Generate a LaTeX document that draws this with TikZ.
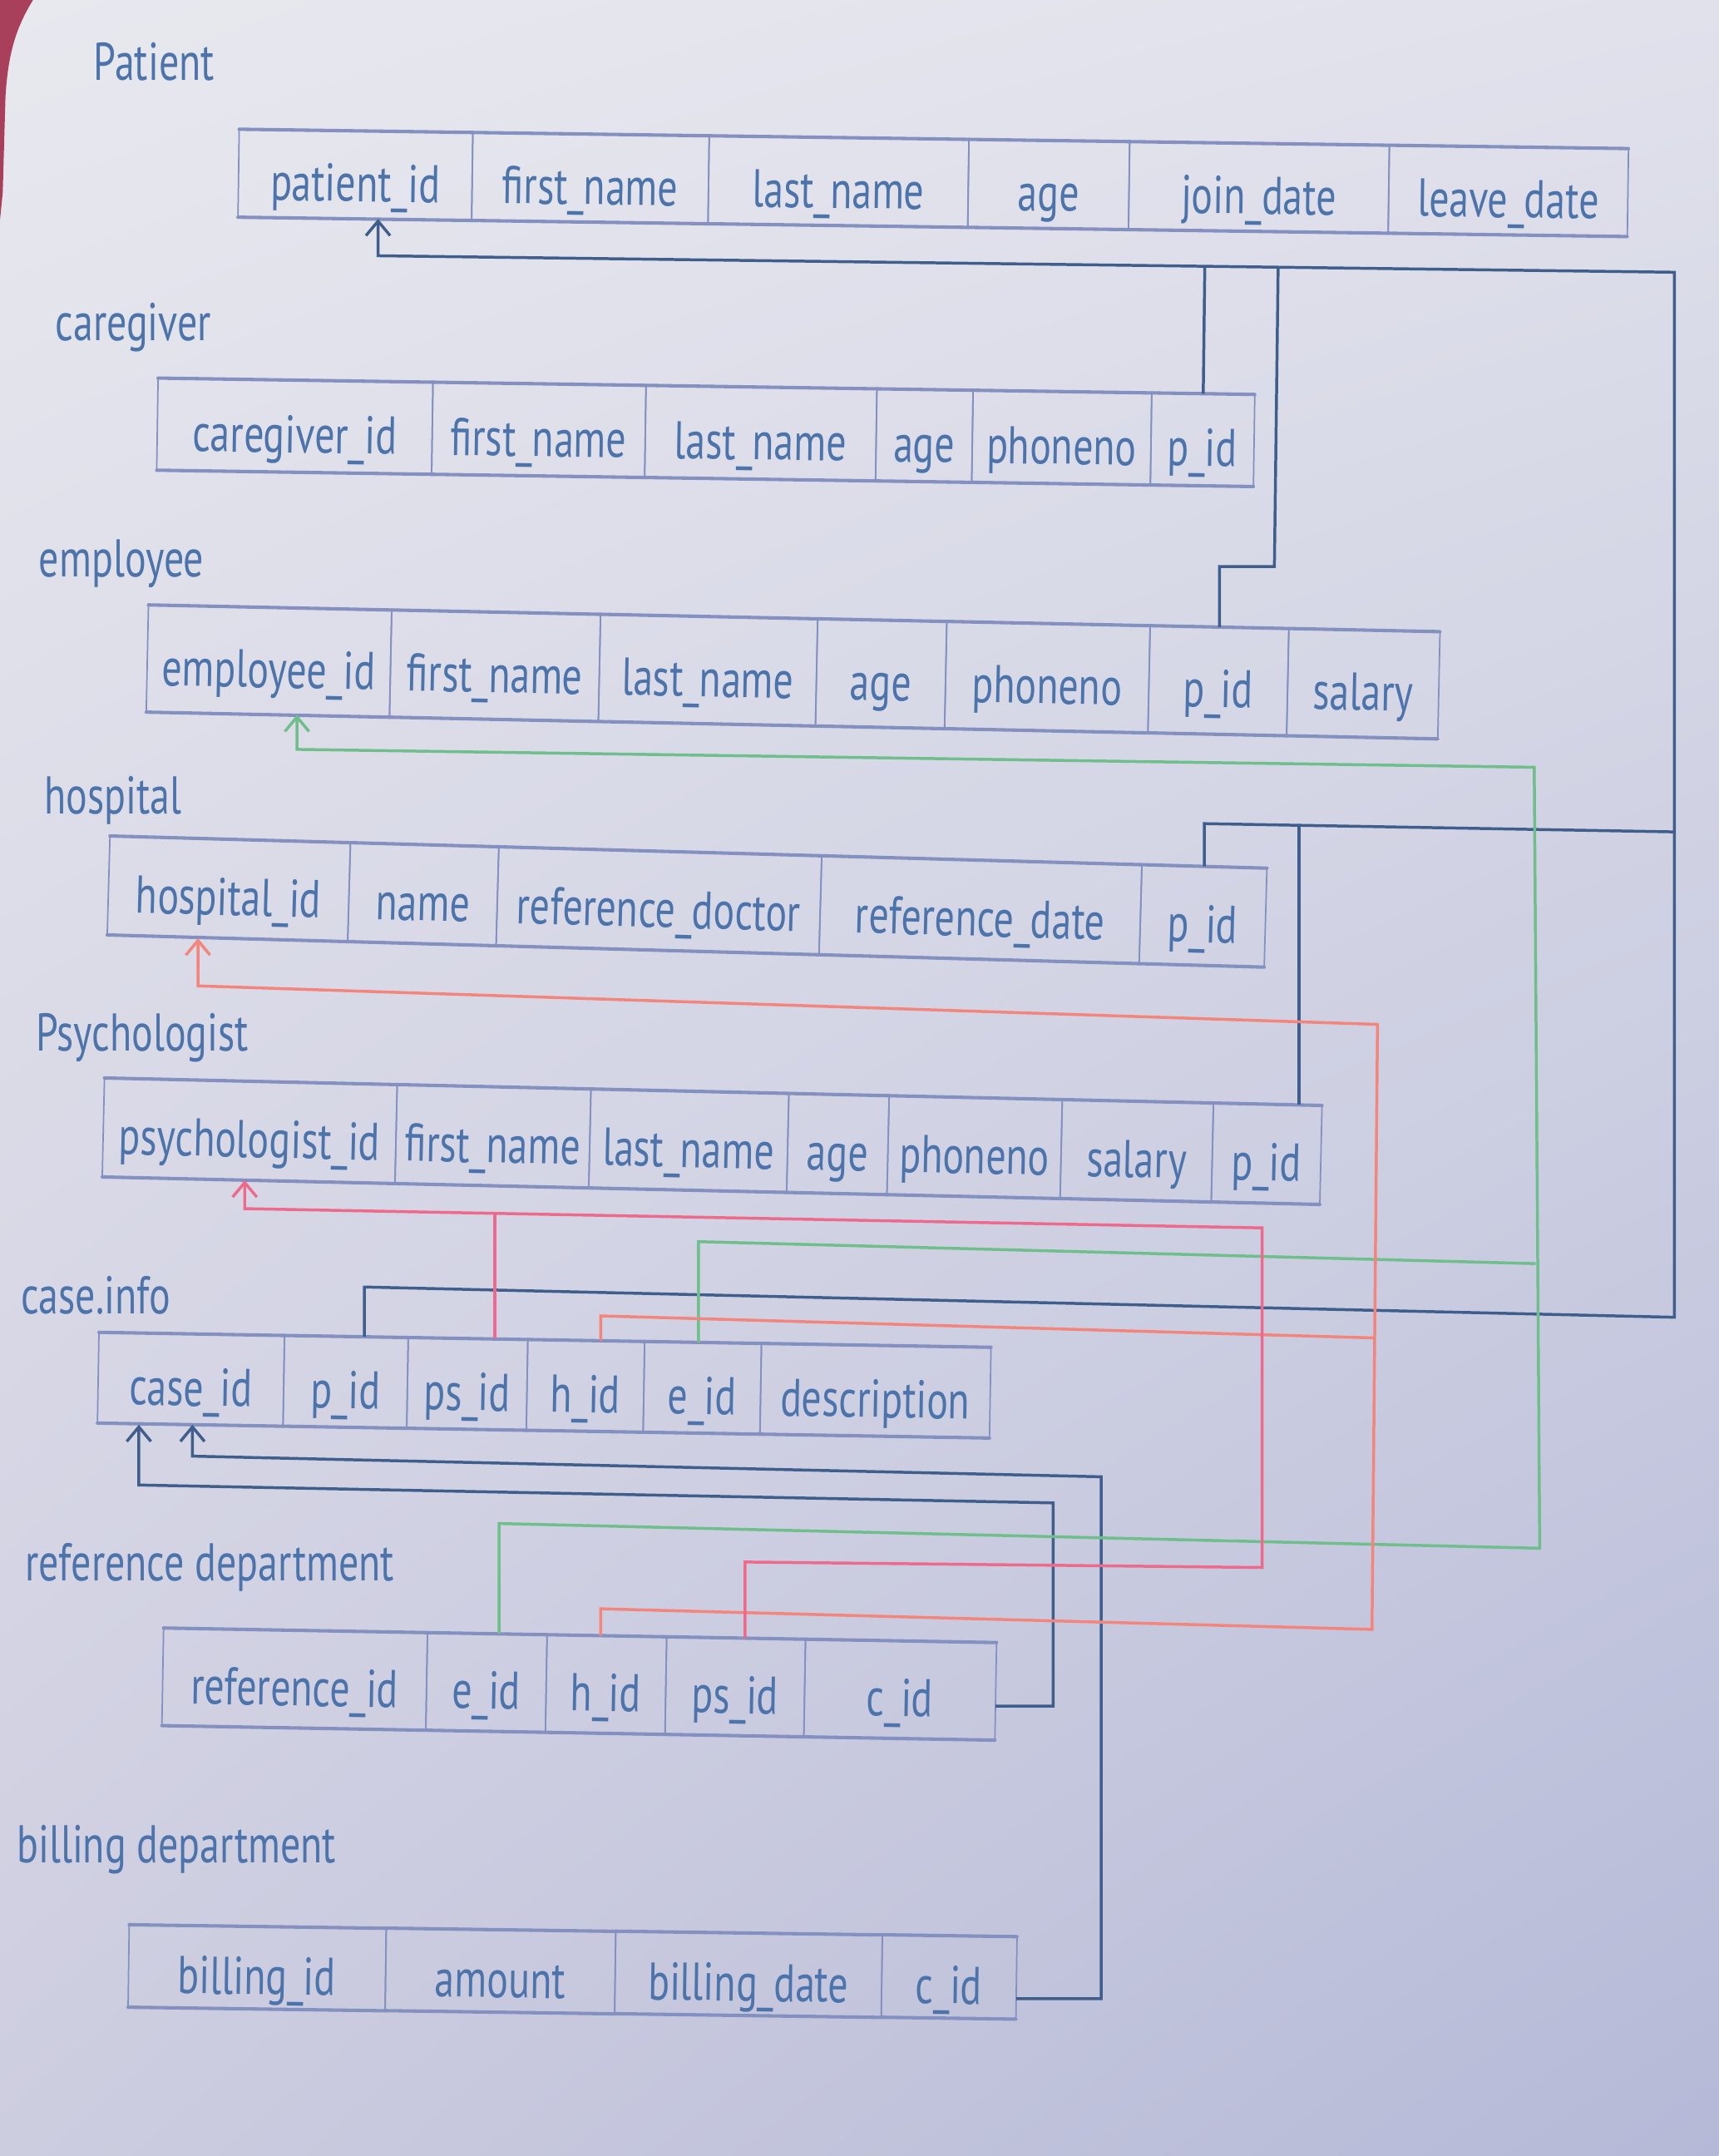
\documentclass[tikz,border=0pt]{standalone}
\usepackage{fontspec}
\setmainfont{PT Sans}[FakeStretch=0.75]
\usetikzlibrary{arrows.meta,calc,shadings}

\definecolor{ink}{HTML}{4C73AA}
\definecolor{tbl}{HTML}{8490C0}
\definecolor{linkblue}{HTML}{3F5E8C}
\definecolor{linkgreen}{HTML}{6FBE8C}
\definecolor{linkpink}{HTML}{EE6A8C}
\definecolor{linksalmon}{HTML}{F3857C}
\definecolor{bgtl}{HTML}{E8E8EF}
\definecolor{bgtr}{HTML}{E0E1EB}
\definecolor{bgbl}{HTML}{CDCDE0}
\definecolor{bgbr}{HTML}{B5B9D7}
\definecolor{edgered}{HTML}{A8405C}

\newcommand{\cellfont}{\fontsize{22}{26}\selectfont}

\tikzset{
  cell/.style={draw=tbl, line width=0.6pt, inner sep=0pt, outer sep=0pt,
    anchor=north west, transform shape, font=\cellfont, text=ink,
    text height=22pt, text depth=0pt},
  tedge/.style={draw=tbl, line width=1.4pt, line cap=round},
  tabletitle/.style={anchor=west, font=\cellfont, text=ink, inner sep=0pt},
  fkblue/.style={draw=linkblue, line width=1.2pt},
  fkgreen/.style={draw=linkgreen, line width=1.2pt},
  fkpink/.style={draw=linkpink, line width=1.2pt},
  fksalmon/.style={draw=linksalmon, line width=1.2pt},
  fkarrow/.style={-{Straight Barb[length=6pt,width=10pt]}}
}

% #1 prefix, #2 x, #3 y (top-left corner), #4 tilt angle, #5 height, #6 cells id/width/text
\newcommand{\erdtable}[6]{%
  \begin{scope}[rotate around={#4:(#2,#3)}]
    \node[inner sep=0pt, outer sep=0pt, minimum size=0pt] (#1-start) at (#2,#3) {};
    \foreach \id/\w/\txt [remember=\id as \lastid (initially start)] in {#6} {
      \node[cell, minimum width=\w*0.02cm, minimum height=#5*0.02cm]
        (#1-\id) at (#1-\lastid.north east) {\txt};
      \draw[tedge] (#1-\id.north west) -- (#1-\id.north east);
      \draw[tedge] (#1-\id.south west) -- (#1-\id.south east);
    }
  \end{scope}}

\begin{document}
\begin{tikzpicture}[x=0.02cm, y=-0.02cm]
  \useasboundingbox (0,0) rectangle (1250,1568);
  \shade[upper left=bgtl, upper right=bgtr, lower left=bgbl, lower right=bgbr]
    (0,0) rectangle (1250,1568);
  \fill[edgered] (0,0) -- (24,0) .. controls (13,18) and (6,36) .. (4,70)
    -- (2,140) -- (0,160) -- cycle;

  % ---------- titles ----------
  \node[tabletitle] (t-patient) at (68,45) {Patient};
  \node[tabletitle] (t-caregiver) at (40,238) {caregiver};
  \node[tabletitle] (t-employee) at (28,410) {employee};
  \node[tabletitle] (t-hospital) at (32,582) {hospital};
  \node[tabletitle] (t-psych) at (26,755) {Psychologist};
  \node[tabletitle] (t-case) at (15,942) {case.info};
  \node[tabletitle] (t-ref) at (18,1140) {reference department};
  \node[tabletitle] (t-bill) at (12,1345) {billing department};

  % ---------- tables ----------
  \erdtable{pt}{174}{94}{-0.8}{64}{id/170/patient\_id, fn/172/first\_name, ln/189/last\_name, age/117/age, jd/189/join\_date, ld/174/leave\_date}
  \erdtable{cg}{115}{275}{-0.86}{67}{id/200/caregiver\_id, fn/155/first\_name, ln/168/last\_name, age/70/age, ph/130/phoneno, pid/75/p\_id}
  \erdtable{em}{108}{440}{-1.2}{78}{id/177/employee\_id, fn/152/first\_name, ln/158/last\_name, age/94/age, ph/148/phoneno, pid/101/p\_id, sal/110/salary}
  \erdtable{h}{80}{608}{-1.6}{72}{id/175/hospital\_id, nm/108/name, rd/235/reference\_doctor, rdt/233/reference\_date, pid/91/p\_id}
  \erdtable{ps}{76}{784}{-1.3}{72}{id/213/psychologist\_id, fn/141/first\_name, ln/144/last\_name, age/73/age, ph/126/phoneno, sal/110/salary, pid/79/p\_id}
  \erdtable{c}{72}{969}{-0.97}{66}{id/135/case\_id, pid/90/p\_id, psid/87/ps\_id, hid/85/h\_id, eid/85/e\_id, desc/167/description}
  \erdtable{r}{119}{1184}{-1.0}{71}{id/192/reference\_id, eid/87/e\_id, hid/87/h\_id, psid/101/ps\_id, cid/139/c\_id}
  \erdtable{b}{94}{1400}{-0.8}{60}{id/187/billing\_id, amt/167/amount, bd/194/billing\_date, cid/98/c\_id}

  % ---------- bend points ----------
  \coordinate (bP1) at (275,186);
  \coordinate (bP2) at (1218,198);
  \coordinate (bP3) at (1218,958);
  \coordinate (bP4) at (265,936);
  \coordinate (bE1) at (927,412);
  \coordinate (bH1) at (1218,605);
  \coordinate (bH2) at (874,599);
  \coordinate (bS1) at (945,601);
  \coordinate (bB2) at (801,1074);
  \coordinate (bB3) at (140,1059);
  \coordinate (bR1) at (766,1093);
  \coordinate (bR2) at (101,1080);
  \coordinate (gE1) at (216,545);
  \coordinate (gE2) at (1116,558);
  \coordinate (gE3) at (1120,1126);
  \coordinate (gE4) at (363,1108);
  \coordinate (gC1) at (508,903);
  \coordinate (gC2) at (1117,919);
  \coordinate (rH1) at (144,717);
  \coordinate (rH2) at (1002,745);
  \coordinate (rH3) at (998,1185);
  \coordinate (rH4) at (437,1170);
  \coordinate (rC1) at (437,957);
  \coordinate (rC2) at (999,973);
  \coordinate (rS1) at (178,879);
  \coordinate (rS2) at (918,893);
  \coordinate (rS3) at (918,1140);
  \coordinate (rS4) at (542,1136);
  \coordinate (rC3) at (360,882.4);
  \coordinate (bcidE) at ($(b-cid.south east)!0.25!(b-cid.north east)$);
  \coordinate (rcidE) at ($(r-cid.north east)!0.65!(r-cid.south east)$);

  % ---------- patient keys (blue) ----------
  \draw[fkblue, fkarrow] (bP4 |- c-pid.north) -- (bP4) -- (bP3) -- (bP2) -- (bP1) -- (bP1 |- pt-id.south);
  \draw[fkblue] ($(bP1)!(cg-pid.north)!(bP2)$) -- (cg-pid.north);
  \draw[fkblue] ($(bP1)!(bE1)!(bP2)$) -- (bE1) -- (bE1 -| em-pid.north) -- (em-pid.north);
  \draw[fkblue] (bH1) -- (h-pid.north |- bH2) -- (h-pid.north);
  \draw[fkblue] (bS1) -- (bS1 |- ps-pid.north);

  % ---------- case keys (blue) ----------
  \draw[fkblue, fkarrow] (bcidE) -- (bcidE -| bB2) -- (bB2) -- (bB3) -- (bB3 |- c-id.south);
  \draw[fkblue, fkarrow] (rcidE) -- (rcidE -| bR1) -- (bR1) -- (bR2) -- (bR2 |- c-id.south);

  % ---------- employee keys (green) ----------
  \draw[fkgreen, fkarrow] (gE4 |- r-eid.north) -- (gE4) -- (gE3) -- (gE2) -- (gE1) -- (gE1 |- em-id.south);
  \draw[fkgreen] (gC1 |- c-eid.north) -- (gC1) -- (gC2);

  % ---------- hospital keys (salmon) ----------
  \draw[fksalmon, fkarrow] (rH4 |- r-hid.north) -- (rH4) -- (rH3) -- (rH2) -- (rH1) -- (rH1 |- h-id.south);
  \draw[fksalmon] (rC1 |- c-hid.north) -- (rC1) -- (rC2);

  % ---------- psychologist keys (pink) ----------
  \draw[fkpink, fkarrow] (rS4 |- r-psid.north) -- (rS4) -- (rS3) -- (rS2) -- (rS1) -- (rS1 |- ps-id.south);
  \draw[fkpink] (rC3) -- (rC3 |- c-psid.north);
\end{tikzpicture}
\end{document}
